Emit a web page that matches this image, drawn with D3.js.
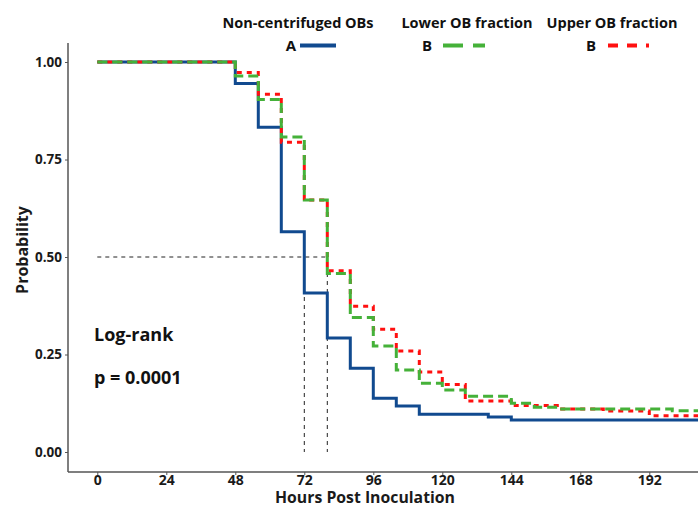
<!DOCTYPE html>
<html>
<head>
<meta charset="utf-8">
<script src="https://cdn.jsdelivr.net/npm/d3@7"></script>
<style>
  body { margin: 0; background: #fff; }
  svg { display: block; font-family: "Open Sans", sans-serif; }
</style>
</head>
<body>
<svg id="chart" width="698" height="507"></svg>
<script>
// step survival curves (hours -> probability)
const groups = ["Non-centrifuged OBs", "Lower OB fraction", "Upper OB fraction"]
const letters = ["A", "B", "B"]

const hoursBlue  = [0, 48, 56, 64, 72, 80, 88, 96, 104, 112, 136, 144, 216]
const probBlue   = [1.0, 0.945, 0.833, 0.565, 0.408, 0.292, 0.215, 0.138, 0.118, 0.097, 0.090, 0.082, 0.082]

const hoursGreen = [0, 48, 56, 64, 72, 80, 88, 96, 104, 112, 120, 128, 144, 152, 160, 200, 216]
const probGreen  = [1.0, 0.964, 0.904, 0.808, 0.646, 0.458, 0.345, 0.272, 0.210, 0.176, 0.159, 0.143, 0.125, 0.115, 0.110, 0.106, 0.106]

const hoursRed   = [0, 48, 56, 64, 72, 80, 88, 96, 104, 112, 120, 128, 144, 160, 176, 192, 216]
const probRed    = [1.0, 0.973, 0.917, 0.794, 0.646, 0.465, 0.374, 0.315, 0.259, 0.205, 0.173, 0.131, 0.119, 0.110, 0.105, 0.093, 0.093]

const xTicks = [0, 24, 48, 72, 96, 120, 144, 168, 192]
const yTicks = [0, 0.25, 0.5, 0.75, 1]
const medians = [72, 80]

const svg = d3.select("#chart")

const x = d3.scaleLinear().domain([0, 192]).range([97.3, 649.3])
const y = d3.scaleLinear().domain([0, 1]).range([452, 62])

const panel = {left: 68, bottom: 472, top: 43, right: 698}

const series = [
    {h: hoursBlue, p: probBlue, color: "#114a8f", dash: null},
    {h: hoursRed, p: probRed, color: "#ff1010", dash: "5,5"},
    {h: hoursGreen, p: probGreen, color: "#45b139", dash: "10,5"}
]

svg.append("clipPath").attr("id", "clip")
    .append("rect").attr("x", panel.left).attr("y", panel.top)
    .attr("width", panel.right - panel.left).attr("height", panel.bottom - panel.top)

const line = d3.line()
    .x(d => x(d[0]))
    .y(d => y(d[1]))
    .curve(d3.curveStepAfter)

const plot = svg.append("g").attr("clip-path", "url(#clip)")

// median guides
plot.append("path")
    .attr("d", `M${x(0)},${y(0.5)}H${x(medians[1])}`)
    .attr("stroke", "#222").attr("stroke-width", 1).attr("stroke-dasharray", "4,4").attr("fill", "none")
medians.forEach(m => {
    plot.append("path")
        .attr("d", `M${x(m)},${y(0.5)}V${y(0)}`)
        .attr("stroke", "#222").attr("stroke-width", 1).attr("stroke-dasharray", "4,4").attr("fill", "none")
})

series.forEach(s => {
    plot.append("path")
        .datum(d3.zip(s.h, s.p))
        .attr("d", line)
        .attr("fill", "none")
        .attr("stroke", s.color)
        .attr("stroke-width", 3)
        .attr("stroke-dasharray", s.dash)
})

// axes
const xAxis = svg.append("g")
    .attr("transform", `translate(0,${panel.bottom})`)
    .call(d3.axisBottom(x).tickValues(xTicks).tickSize(3).tickPadding(0))
xAxis.select(".domain").attr("d", `M${panel.left},0H${panel.right}`)

const yAxis = svg.append("g")
    .attr("transform", `translate(${panel.left},0)`)
    .call(d3.axisLeft(y).tickValues(yTicks).tickFormat(d3.format(".2f")).tickSize(3).tickPadding(3))
yAxis.select(".domain").attr("d", `M0,${panel.top}V${panel.bottom}`)

svg.selectAll(".domain").attr("stroke", "#555").attr("stroke-width", 1.5)
svg.selectAll(".tick line").attr("stroke", "#555")
svg.selectAll(".tick text")
    .attr("font-family", "Open Sans").attr("font-weight", "bold").attr("fill", "#1a1a1a")
yAxis.selectAll(".tick text").attr("font-size", 13.5)
xAxis.selectAll(".tick text").attr("font-size", 14)

svg.append("text")
    .attr("x", 365).attr("y", 503)
    .attr("text-anchor", "middle")
    .attr("font-weight", "bold").attr("font-size", 16.5).attr("fill", "#1a1a1a")
    .attr("textLength", 180).attr("lengthAdjust", "spacingAndGlyphs")
    .text("Hours Post Inoculation")

svg.append("text")
    .attr("transform", "translate(28,250) rotate(-90)")
    .attr("text-anchor", "middle")
    .attr("font-weight", "bold").attr("font-size", 16).attr("fill", "#1a1a1a")
    .text("Probability")

// log-rank annotation
svg.append("text").attr("x", 94).attr("y", 341)
    .attr("font-weight", "bold").attr("font-size", 18).attr("fill", "#111")
    .text("Log-rank")
svg.append("text").attr("x", 94).attr("y", 384)
    .attr("font-weight", "bold").attr("font-size", 18).attr("fill", "#111")
    .text("p = 0.0001")

// legend
const legTitleX = [298, 467, 612]
const legLetterX = [291, 427, 591]
const legKey = [
    {x0: 300, x1: 336, color: "#114a8f", dash: null},
    {x0: 443, x1: 485, color: "#45b139", dash: "20,10"},
    {x0: 608, x1: 649, color: "#ff1010", dash: "10,9"}
]
groups.forEach((g, i) => {
    svg.append("text").attr("x", legTitleX[i]).attr("y", 28)
        .attr("text-anchor", "middle")
        .attr("font-weight", "bold").attr("font-size", 14.5).attr("fill", "#111")
        .text(g)
    svg.append("text").attr("x", legLetterX[i]).attr("y", 51)
        .attr("text-anchor", "middle")
        .attr("font-weight", "bold").attr("font-size", 15).attr("fill", "#111")
        .text(letters[i])
    svg.append("line")
        .attr("x1", legKey[i].x0).attr("x2", legKey[i].x1)
        .attr("y1", 45.5).attr("y2", 45.5)
        .attr("stroke", legKey[i].color).attr("stroke-width", 4)
        .attr("stroke-dasharray", legKey[i].dash)
})
</script>
</body>
</html>
